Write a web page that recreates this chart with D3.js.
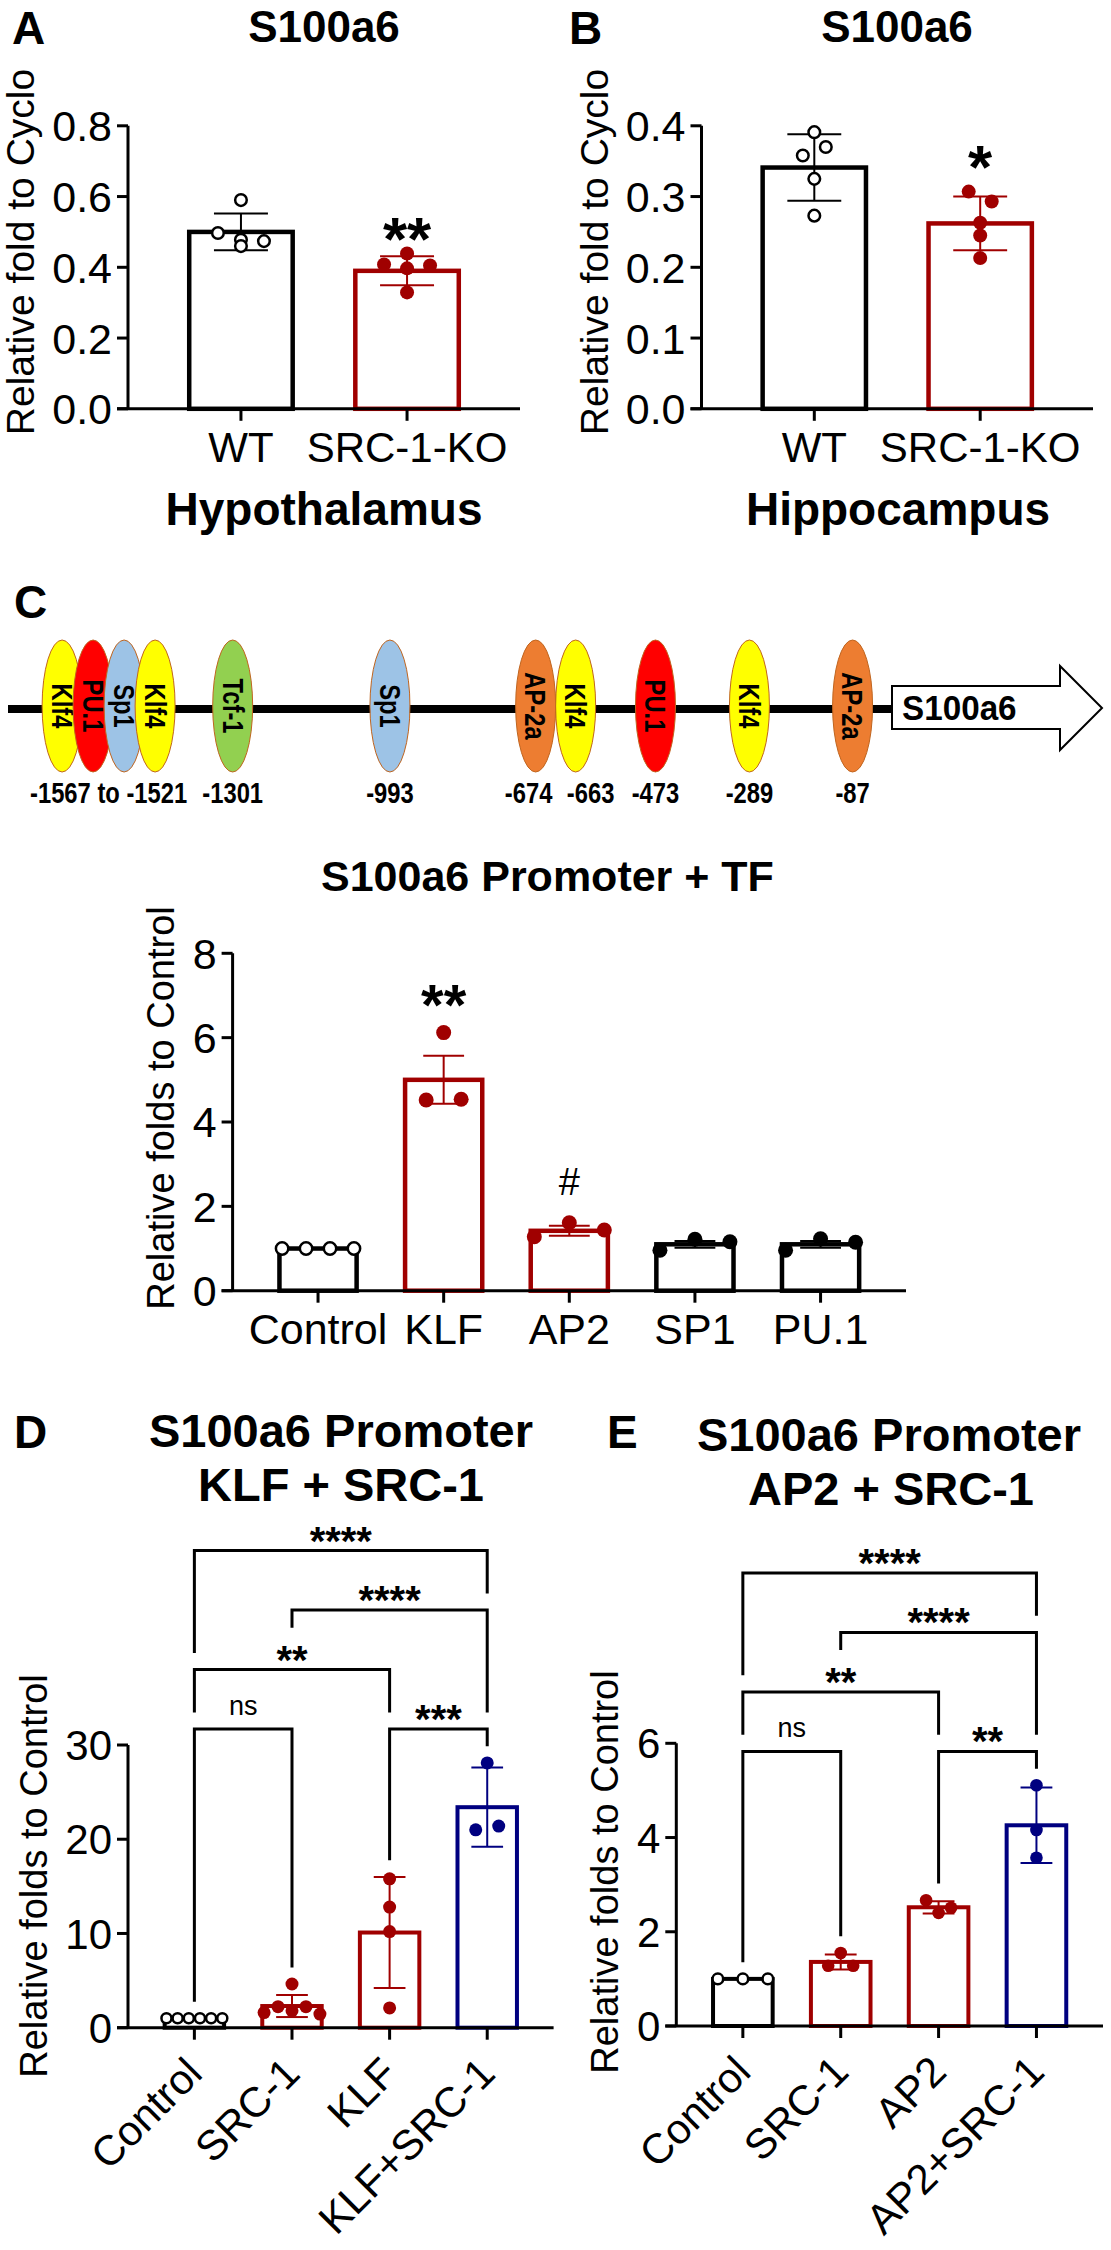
<!DOCTYPE html>
<html><head><meta charset="utf-8">
<script src="https://cdn.jsdelivr.net/npm/d3@7"></script>
<style>
html,body{margin:0;padding:0;background:#fff;}
svg{display:block;}
</style></head><body>
<svg id="fig" width="1111" height="2250"></svg>
<script>
// ================= DATA =================
// Panel A - Hypothalamus
const groupsAB = ["WT", "SRC-1-KO"];
const hypMeans = [0.50, 0.39];
const hypSD = [0.052, 0.041];
const hypPoints = [[0.59, 0.497, 0.478, 0.474, 0.46], [0.408, 0.439, 0.405, 0.397, 0.329]];
const hypSignif = ["", "**"];
const ticksA = [0, 0.2, 0.4, 0.6, 0.8];
// Panel B - Hippocampus
const hipMeans = [0.341, 0.262];
const hipSD = [0.047, 0.038];
const hipPoints = [[0.391, 0.358, 0.370, 0.325, 0.273], [0.307, 0.293, 0.263, 0.245, 0.213]];
const hipSignif = ["", "*"];
const ticksB = [0, 0.1, 0.2, 0.3, 0.4];
// Panel C - promoter + TF
const tfGroups = ["Control", "KLF", "AP2", "SP1", "PU.1"];
const tfMeans = [1.0, 5.0, 1.42, 1.10, 1.10];
const tfSEM = [0, 0.57, 0.12, 0.08, 0.08];
const tfPoints = [[1, 1, 1, 1], [6.12, 4.52, 4.54], [1.28, 1.61, 1.44], [0.96, 1.22, 1.16], [0.96, 1.23, 1.15]];
const tfSignif = ["", "**", "#", "", ""];
const ticksC = [0, 2, 4, 6, 8];
// Panel D - KLF + SRC-1
const klfGroups = ["Control", "SRC-1", "KLF", "KLF+SRC-1"];
const klfMeans = [1.0, 2.3, 10.1, 23.4];
const klfSD = [0, 1.17, 5.9, 4.2];
const klfPoints = [[1, 1, 1, 1, 1, 1], [4.64, 1.6, 2.23, 1.8, 2.23, 1.45], [15.8, 12.8, 10.2, 2.1], [28.1, 21.0, 21.4]];
const ticksD = [0, 10, 20, 30];
const klfComparisons = [[0, 1], [2, 3], [0, 2], [1, 3], [0, 3]];
const klfCompLabels = ["ns", "***", "**", "****", "****"];
const klfCompLevels = [0, 0, 1, 2, 3];
// Panel E - AP2 + SRC-1
const ap2Groups = ["Control", "SRC-1", "AP2", "AP2+SRC-1"];
const ap2Means = [1.0, 1.36, 2.52, 4.26];
const ap2SD = [0, 0.16, 0.13, 0.80];
const ap2Points = [[1, 1, 1], [1.55, 1.28, 1.28], [2.67, 2.51, 2.40], [5.11, 4.16, 3.57]];
const ticksE = [0, 2, 4, 6];
const ap2Comparisons = [[0, 1], [2, 3], [0, 2], [1, 3], [0, 3]];
const ap2CompLabels = ["ns", "**", "**", "****", "****"];
const ap2CompLevels = [0, 0, 1, 2, 3];
// Promoter diagram
const siteNames = ["Klf4", "PU.1", "Sp1", "Klf4", "Tcf-1", "Sp1", "AP-2a", "Klf4", "PU.1", "Klf4", "AP-2a"];
const siteBp = [-1567, -1552, -1536, -1521, -1301, -993, -674, -663, -473, -289, -87];
const siteFamily = ["KLF", "PU", "SP", "KLF", "TCF", "SP", "AP2", "KLF", "PU", "KLF", "AP2"];
const siteLabelText = ["-1567 to -1521", "-1301", "-993", "-674", "-663", "-473", "-289", "-87"];
const siteLabelGroups = [[0, 1, 2, 3], [4], [5], [6], [7], [8], [9], [10]];

// ================= DRAWING =================
const FONT = "'Liberation Sans', Arial, Helvetica, sans-serif";
const RED = "#a00000", NAVY = "#000080", BLACK = "#000000";
const svg = d3.select("#fig").style("font-family", FONT);
svg.append("rect").attr("width", 1111).attr("height", 2250).attr("fill", "#fff");

function txt(x, y, s, size, o = {}) {
  const t = svg.append("text").attr("x", x).attr("y", y).text(s)
    .attr("font-size", size).attr("font-weight", o.bold ? "bold" : "normal")
    .attr("text-anchor", o.anchor || "middle").attr("fill", o.fill || BLACK)
    .attr("font-family", o.family || FONT);
  if (o.transform) t.attr("transform", o.transform);
  return t;
}

function jitter(vals, y, thresh, maxD, bw) {
  const idx = vals.map((v, i) => i).sort((a, b) => y(vals[a]) - y(vals[b]));
  const off = new Array(vals.length).fill(0);
  let k = 0;
  while (k < idx.length) {
    const start = y(vals[idx[k]]);
    let m = k + 1;
    while (m < idx.length && y(vals[idx[m]]) - start <= thresh) m++;
    const cl = idx.slice(k, m).sort((a, b) => a - b);
    const n = cl.length;
    if (n > 1) {
      const d = Math.min(maxD, 0.88 * bw / (n - 1));
      cl.forEach((ii, j) => off[ii] = (j - (n - 1) / 2) * d);
    }
    k = m;
  }
  return off;
}

function barChart(c) {
  const g = svg.append("g");
  const x = d3.scaleBand().domain(c.cats).range([c.left, c.right]).paddingInner(0.35).paddingOuter(0.355);
  const y = d3.scaleLinear().domain([0, c.max]).range([c.bottom, c.top]);
  const bw = x.bandwidth();
  const cx = i => x(c.cats[i]) + bw / 2;
  // bars
  c.cats.forEach((cat, i) => {
    g.append("rect").attr("x", x(cat) + c.barSW / 2).attr("width", bw - c.barSW)
      .attr("y", y(c.means[i])).attr("height", y(0) - y(c.means[i]))
      .attr("fill", "#fff").attr("stroke", c.colors[i]).attr("stroke-width", c.barSW);
  });
  // axes
  g.append("line").attr("x1", c.left).attr("x2", c.left).attr("y1", y(0)).attr("y2", y(c.max))
    .attr("stroke", BLACK).attr("stroke-width", 3);
  c.ticks.forEach(t => {
    g.append("line").attr("x1", c.left - 11).attr("x2", c.left).attr("y1", y(t)).attr("y2", y(t))
      .attr("stroke", BLACK).attr("stroke-width", 3);
    txt(c.left - 16, y(t), c.fmt(t), c.tickFont, { anchor: "end" }).attr("dy", "0.36em");
  });
  g.append("line").attr("x1", c.left - 11).attr("x2", c.right).attr("y1", y(0)).attr("y2", y(0))
    .attr("stroke", BLACK).attr("stroke-width", 3);
  c.cats.forEach((cat, i) => {
    g.append("line").attr("x1", cx(i)).attr("x2", cx(i)).attr("y1", y(0)).attr("y2", y(0) + 12)
      .attr("stroke", BLACK).attr("stroke-width", 3);
    if (c.rotate) {
      txt(cx(i) + 10, y(0) + 48, cat, c.xFont, { anchor: "end", transform: `rotate(-45 ${cx(i) + 10} ${y(0) + 48})` });
    } else {
      txt(cx(i), c.xLabelY, cat, c.xFont);
    }
  });
  // error bars
  c.cats.forEach((cat, i) => {
    const e = c.errs[i];
    if (!e) return;
    const col = c.colors[i];
    const cw = bw * 0.25;
    g.append("line").attr("x1", cx(i)).attr("x2", cx(i)).attr("y1", y(c.means[i] - e)).attr("y2", y(c.means[i] + e))
      .attr("stroke", col).attr("stroke-width", 2);
    [c.means[i] - e, c.means[i] + e].forEach(v => {
      g.append("line").attr("x1", cx(i) - cw).attr("x2", cx(i) + cw).attr("y1", y(v)).attr("y2", y(v))
        .attr("stroke", col).attr("stroke-width", 2);
    });
  });
  // points
  c.cats.forEach((cat, i) => {
    const vals = c.points[i];
    const off = jitter(vals, y, c.thresh, c.maxD, bw);
    const open = c.open[i];
    vals.forEach((v, j) => {
      g.append("circle").attr("cx", cx(i) + off[j]).attr("cy", y(v))
        .attr("r", open ? c.rOpen : c.r)
        .attr("fill", open ? "#fff" : c.colors[i])
        .attr("stroke", c.colors[i]).attr("stroke-width", open ? 2.5 : 0);
    });
  });
  // y title
  txt(c.yTitleX, c.yTitleY, c.yTitle, c.yTitleFont, { transform: `rotate(-90 ${c.yTitleX} ${c.yTitleY})` });
  // significance marks above bars
  if (c.signif) {
    c.signif.forEach((s, i) => {
      if (!s) return;
      const top = Math.max(d3.max(c.points[i]), c.means[i] + c.errs[i]);
      const isHash = s === "#";
      txt(cx(i), y(top) + c.signifOffset[i], s, isHash ? 38 : c.signifFont, { bold: !isHash });
    });
  }
  // comparison brackets
  if (c.comps) {
    const dataTopY = i => y(Math.max(d3.max(c.points[i]), c.means[i] + c.errs[i]));
    const lvl0 = d3.min(c.cats.map((cat, i) => dataTopY(i))) - 33.8;
    const lineY = k => lvl0 - c.levels[k] * 59.5;
    c.comps.forEach((cmp, k) => {
      const [a, b] = cmp;
      const ly = lineY(k);
      const legEnd = col => {
        let obst = dataTopY(col);
        c.comps.forEach((c2, k2) => {
          if (c.levels[k2] >= c.levels[k]) return;
          if (col >= c2[0] && col <= c2[1]) obst = Math.min(obst, lineY(k2));
          if (Math.abs((c2[0] + c2[1]) / 2 - col) < 0.25) obst = Math.min(obst, lineY(k2) - 25.3);
        });
        return obst - 16.6;
      };
      g.append("path").attr("d", `M${cx(a)},${legEnd(a)}V${ly}H${cx(b)}V${legEnd(b)}`)
        .attr("fill", "none").attr("stroke", BLACK).attr("stroke-width", 3);
      const lab = c.compLabels[k];
      const mx = (cx(a) + cx(b)) / 2;
      if (lab === "ns") txt(mx, ly - 14, lab, 27);
      else txt(mx, ly + 4, lab, 40, { bold: true });
    });
  }
  return { x, y };
}

// ---------- Panel A ----------
txt(12, 44, "A", 46, { bold: true, anchor: "start" });
txt(324, 42, "S100a6", 44, { bold: true });
barChart({
  cats: groupsAB, means: hypMeans, errs: hypSD, points: hypPoints, colors: [BLACK, RED], open: [true, false],
  left: 128, right: 520, top: 125.8, bottom: 408.8, max: 0.8, ticks: ticksA, fmt: d3.format(".1f"),
  tickFont: 43, xFont: 42, xLabelY: 462, barSW: 4.5, r: 7, rOpen: 5.8, thresh: 12.5, maxD: 23,
  yTitle: "Relative fold to Cyclo", yTitleX: 34, yTitleY: 252, yTitleFont: 39,
  signif: hypSignif, signifOffset: [0, 6], signifFont: 62
});
txt(324, 525, "Hypothalamus", 46, { bold: true });

// ---------- Panel B ----------
txt(569, 44, "B", 46, { bold: true, anchor: "start" });
txt(897, 42, "S100a6", 44, { bold: true });
barChart({
  cats: groupsAB, means: hipMeans, errs: hipSD, points: hipPoints, colors: [BLACK, RED], open: [true, false],
  left: 701.5, right: 1093, top: 125.8, bottom: 408.8, max: 0.4, ticks: ticksB, fmt: d3.format(".1f"),
  tickFont: 43, xFont: 42, xLabelY: 462, barSW: 4.5, r: 7, rOpen: 5.8, thresh: 12.5, maxD: 23,
  yTitle: "Relative fold to Cyclo", yTitleX: 608, yTitleY: 252, yTitleFont: 39,
  signif: hipSignif, signifOffset: [0, -4], signifFont: 62
});
txt(898, 525, "Hippocampus", 46, { bold: true });

// ---------- Panel C diagram ----------
txt(14, 618, "C", 46, { bold: true, anchor: "start" });
const lineY = 709;
svg.append("line").attr("x1", 8).attr("x2", 896).attr("y1", lineY).attr("y2", lineY)
  .attr("stroke", BLACK).attr("stroke-width", 8);
const xBp = d3.scaleLinear().domain([-1600, 0]).range([80, 897]);
const famColor = { KLF: "#ffff00", PU: "#ff0000", SP: "#9dc3e6", TCF: "#92d050", AP2: "#ed7d31" };
const siteX = new Array(siteNames.length);
const labelX = [];
siteLabelGroups.forEach((grp, gi) => {
  const mid = xBp(d3.mean(grp, i => siteBp[i]));
  grp.forEach((si, j) => siteX[si] = mid + (j - (grp.length - 1) / 2) * 31);
  labelX.push(mid);
});
// resolve overlaps between separate single sites / labels
for (let gi = 1; gi < siteLabelGroups.length; gi++) {
  const a = siteLabelGroups[gi - 1], b = siteLabelGroups[gi];
  if (a.length === 1 && b.length === 1) {
    const xa = siteX[a[0]], xb = siteX[b[0]];
    if (xb - xa < 40) { const m = (xa + xb) / 2; siteX[a[0]] = m - 20; siteX[b[0]] = m + 20; }
    const la = labelX[gi - 1], lb = labelX[gi];
    if (lb - la < 62) { const m = (la + lb) / 2 + 4; labelX[gi - 1] = m - 31; labelX[gi] = m + 31; }
  }
}
siteNames.forEach((nm, i) => {
  svg.append("ellipse").attr("cx", siteX[i]).attr("cy", 706).attr("rx", 20).attr("ry", 66)
    .attr("fill", famColor[siteFamily[i]]).attr("stroke", "#c0651f").attr("stroke-width", 1);
  txt(0, 0, nm, 29, { bold: true, transform: `translate(${siteX[i]},706) rotate(90) scale(0.82,1)` }).attr("dy", "0.35em");
});
siteLabelText.forEach((s, i) => txt(0, 0, s, 29, { bold: true, transform: `translate(${labelX[i]},803) scale(0.82,1)` }));
// gene arrow
svg.append("path").attr("d", "M892,686H1060V666L1102,708L1060,750V729H892Z")
  .attr("fill", "#fff").attr("stroke", BLACK).attr("stroke-width", 2);
txt(0, 0, "S100a6", 35, { bold: true, anchor: "start", transform: "translate(902,720) scale(0.95,1)" });

// ---------- Panel C chart ----------
txt(321, 891, "S100a6 Promoter + TF", 43, { bold: true, anchor: "start" });
barChart({
  cats: tfGroups, means: tfMeans, errs: tfSEM, points: tfPoints, colors: [BLACK, RED, RED, BLACK, BLACK],
  open: [true, false, false, false, false],
  left: 232.6, right: 906, top: 953.3, bottom: 1290.7, max: 8, ticks: ticksC, fmt: d3.format("d"),
  tickFont: 43, xFont: 43, xLabelY: 1344, barSW: 4.5, r: 7.5, rOpen: 6.2, thresh: 16, maxD: 35,
  yTitle: "Relative folds to Control", yTitleX: 174, yTitleY: 1108, yTitleFont: 38,
  signif: tfSignif, signifOffset: [0, -8, -28, 0, 0], signifFont: 58
});

// ---------- Panel D ----------
txt(14, 1448, "D", 46, { bold: true, anchor: "start" });
txt(341, 1447, "S100a6 Promoter", 47, { bold: true });
txt(341, 1501, "KLF + SRC-1", 47, { bold: true });
barChart({
  cats: klfGroups, means: klfMeans, errs: klfSD, points: klfPoints, colors: [BLACK, RED, RED, NAVY],
  open: [true, false, false, false],
  left: 128, right: 553.6, top: 1745, bottom: 2027.7, max: 30, ticks: ticksD, fmt: d3.format("d"),
  tickFont: 42, xFont: 42, rotate: true, barSW: 4, r: 6.5, rOpen: 5, thresh: 12.5, maxD: 23,
  yTitle: "Relative folds to Control", yTitleX: 47, yTitleY: 1876, yTitleFont: 38,
  comps: klfComparisons, compLabels: klfCompLabels, levels: klfCompLevels
});

// ---------- Panel E ----------
txt(607, 1448, "E", 46, { bold: true, anchor: "start" });
txt(889, 1451, "S100a6 Promoter", 47, { bold: true });
txt(891, 1505, "AP2 + SRC-1", 47, { bold: true });
barChart({
  cats: ap2Groups, means: ap2Means, errs: ap2SD, points: ap2Points, colors: [BLACK, RED, RED, NAVY],
  open: [true, false, false, false],
  left: 676.3, right: 1103, top: 1743.3, bottom: 2026, max: 6, ticks: ticksE, fmt: d3.format("d"),
  tickFont: 42, xFont: 42, rotate: true, barSW: 4, r: 6.3, rOpen: 5.3, thresh: 12.5, maxD: 25,
  yTitle: "Relative folds to Control", yTitleX: 618, yTitleY: 1872, yTitleFont: 38,
  comps: ap2Comparisons, compLabels: ap2CompLabels, levels: ap2CompLevels
});
</script>
</body></html>
